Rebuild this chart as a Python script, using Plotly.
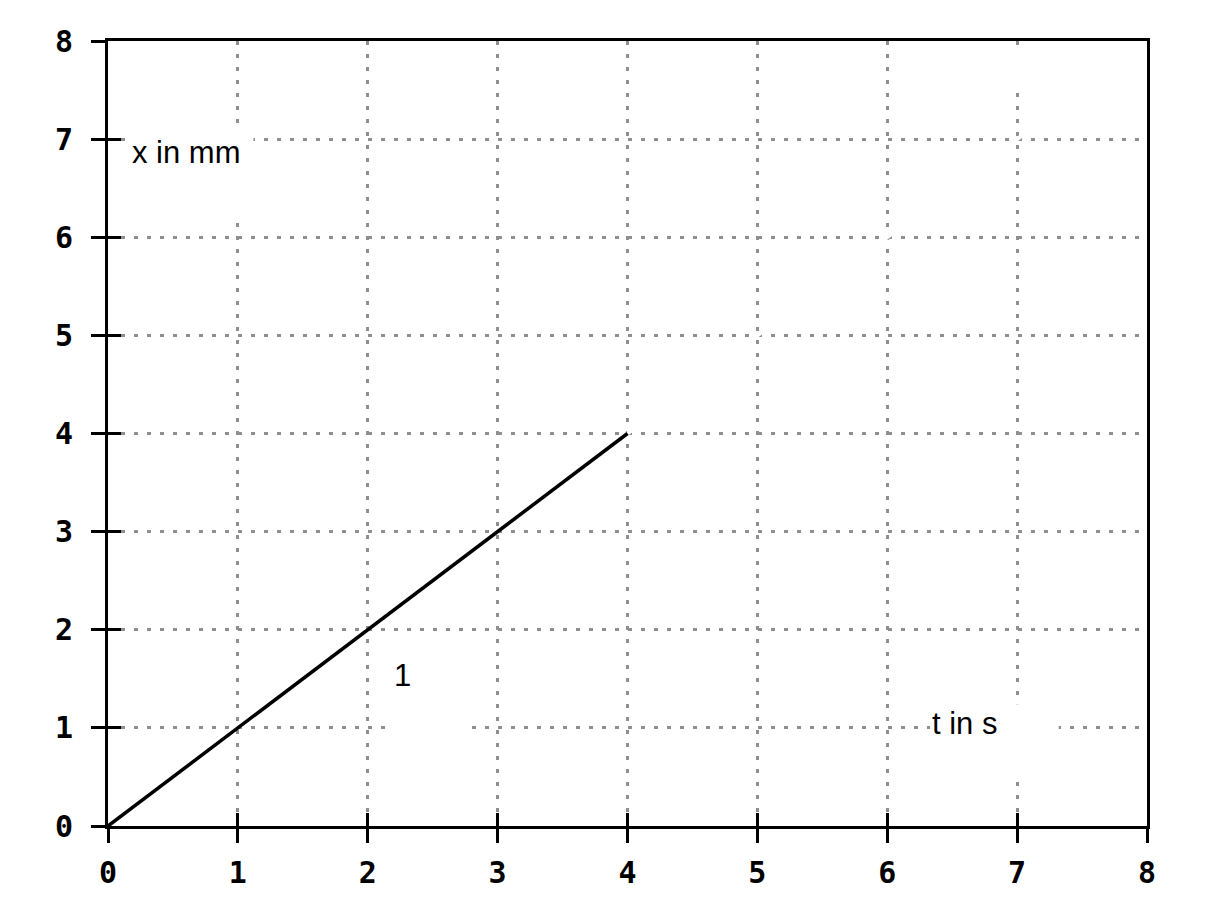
import plotly.graph_objects as go

# data
t_line = [0, 4]
x_line = [0, 4]
t_erased = [4, 8]
x_erased = [4, 8]
tick_vals = [0, 1, 2, 3, 4, 5, 6, 7, 8]
tick_text = ["0", "1", "2", "3", "4", "5", "6", "7", "8"]

fig = go.Figure()

fig.add_trace(go.Scatter(x=t_erased, y=x_erased, mode="lines",
                         line=dict(color="white", width=4), hoverinfo="skip", showlegend=False))
fig.add_trace(go.Scatter(x=t_line, y=x_line, mode="lines",
                         line=dict(color="black", width=3.5), showlegend=False))
# invisible trace for inside-tick overlay axes
fig.add_trace(go.Scatter(x=[0, 8], y=[0, 8], mode="lines", line=dict(width=0),
                         xaxis="x2", yaxis="y2", hoverinfo="skip", showlegend=False, opacity=0))

tickfont = dict(family="DejaVu Sans Mono", size=30, color="black", weight="bold")
common = dict(range=[0, 8], tickvals=tick_vals, ticktext=tick_text, showline=True,
              linecolor="black", linewidth=3, mirror=True, ticks="outside", ticklen=14,
              tickwidth=3, tickcolor="black", showgrid=True, gridcolor="#8f8f8f",
              gridwidth=2.5, griddash="4px,9px", zeroline=False, tickfont=tickfont)

fig.update_layout(
    width=1209, height=907,
    margin=dict(l=100, r=70, t=33, b=89),
    paper_bgcolor="white", plot_bgcolor="white",
    xaxis=dict(**common, ticklabelstandoff=4),
    yaxis=dict(**common, ticklabelstandoff=12),
    xaxis2=dict(range=[0, 8], tickvals=tick_vals, overlaying="x", anchor="y2", side="bottom",
                ticks="inside", ticklen=13, tickwidth=3, tickcolor="black",
                showticklabels=False, showgrid=False, zeroline=False, showline=False),
    yaxis2=dict(range=[0, 8], tickvals=tick_vals, overlaying="y", anchor="x2", side="left",
                ticks="inside", ticklen=13, tickwidth=3, tickcolor="black",
                showticklabels=False, showgrid=False, zeroline=False, showline=False),
)

# white label boxes
boxes = [(0.15, 1.12, 6.19, 7.08), (2.2, 2.77, 0.98, 1.72), (6.33, 7.32, 0.5, 1.24),
         (6.3, 7.95, 7.52, 7.95)]
for x0, x1, y0, y1 in boxes:
    fig.add_shape(type="rect", x0=x0, x1=x1, y0=y0, y1=y1, layer="between",
                  fillcolor="white", line=dict(width=0))

labfont = dict(family="Liberation Sans, Arial", size=31, color="black")
fig.add_annotation(x=0.17, y=6.86, text="x in mm", showarrow=False, xanchor="left",
                   yanchor="middle", font=labfont)
fig.add_annotation(x=2.27, y=1.53, text="1", showarrow=False, xanchor="center",
                   yanchor="middle", font=labfont)
fig.add_annotation(x=6.33, y=1.04, text="t in s", showarrow=False, xanchor="left",
                   yanchor="middle", font=labfont)

fig.write_html("out.html")
